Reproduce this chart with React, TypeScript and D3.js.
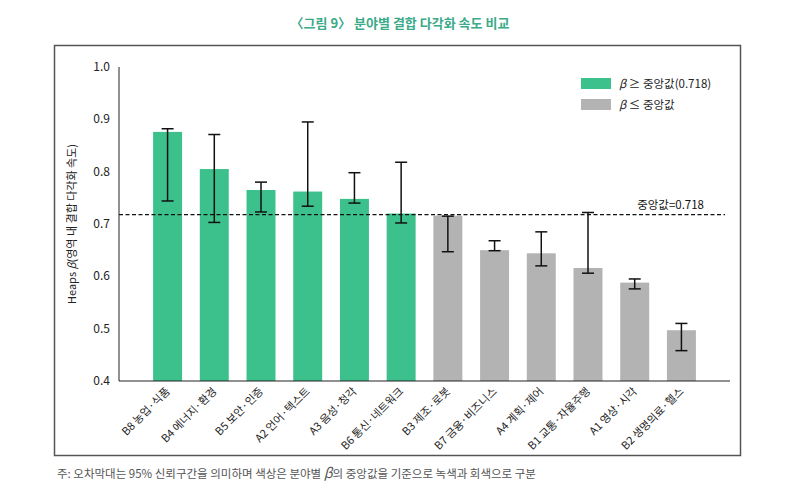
import React from 'react';
import * as d3 from 'd3';

// values
const categories = [
  'B8 농업·식품', 'B4 에너지·환경', 'B5 보안·인증', 'A2 언어·텍스트', 'A3 음성·청각', 'B6 통신·네트워크',
  'B3 제조·로봇', 'B7 금융·비즈니스', 'A4 계획·제어', 'B1 교통·자율주행', 'A1 영상·시각', 'B2 생명의료·헬스',
];
const betaValues = [0.876, 0.805, 0.765, 0.762, 0.748, 0.720, 0.716, 0.650, 0.644, 0.616, 0.588, 0.497];
const ciLow = [0.744, 0.703, 0.723, 0.734, 0.740, 0.702, 0.647, 0.649, 0.620, 0.606, 0.576, 0.458];
const ciHigh = [0.882, 0.871, 0.780, 0.895, 0.798, 0.818, 0.715, 0.668, 0.685, 0.722, 0.595, 0.510];
const yTicks = [0.4, 0.5, 0.6, 0.7, 0.8, 0.9, 1.0];
const medianValue = 0.718;

const GREEN = '#3cc08c';
const GRAY = '#b3b3b3';
const FONT = "'Noto Sans CJK KR', 'Noto Sans', sans-serif";

const App = () => {
  const x = d3.scaleBand<string>()
    .domain(categories)
    .range([119, 730])
    .paddingInner(0.38)
    .paddingOuter(0.73);

  const y = d3.scaleLinear()
    .domain([0.4, 1.0])
    .range([381, 67]);

  const cap = 6;

  return (
    <div style={{ position: 'absolute', left: 0, top: 0 }}>
      <svg width={800} height={493} style={{ display: 'block', fontFamily: FONT }}>
        <rect width={800} height={493} fill="#fff" />

        {/* title */}
        <text x={400} y={28} textAnchor="middle" fontSize={13} fontWeight="bold" fill="#3aaa88">
          〈그림 9〉 분야별 결합 다각화 속도 비교
        </text>

        {/* outer frame */}
        <rect x={54.5} y={45.5} width={686} height={410} fill="none" stroke="#555" strokeWidth={1.5} />

        {/* bars */}
        {categories.map((c, i) => (
          <rect
            key={c}
            x={x(c)}
            y={y(betaValues[i])}
            width={x.bandwidth()}
            height={y(0.4) - y(betaValues[i])}
            fill={betaValues[i] >= medianValue ? GREEN : GRAY}
          />
        ))}

        {/* median line */}
        <line x1={119} x2={725} y1={y(medianValue)} y2={y(medianValue)}
          stroke="#111" strokeWidth={1.2} strokeDasharray="4,2.5" />
        <text x={704} y={y(medianValue) - 6} textAnchor="end" fontSize={11.5} fill="#111">중앙값=0.718</text>

        {/* error bars */}
        {categories.map((c, i) => {
          const cx = (x(c) ?? 0) + x.bandwidth() / 2;
          return (
            <g key={c} stroke="#111" strokeWidth={1.5}>
              <line x1={cx} x2={cx} y1={y(ciHigh[i])} y2={y(ciLow[i])} />
              <line x1={cx - cap} x2={cx + cap} y1={y(ciHigh[i])} y2={y(ciHigh[i])} />
              <line x1={cx - cap} x2={cx + cap} y1={y(ciLow[i])} y2={y(ciLow[i])} />
            </g>
          );
        })}

        {/* axes */}
        <line x1={119} x2={119} y1={67} y2={381} stroke="#222" strokeWidth={1} />
        <line x1={119} x2={730} y1={381} y2={381} stroke="#222" strokeWidth={1} />
        {yTicks.map(t => (
          <text key={t} x={110} y={y(t) + 4} textAnchor="end" fontSize={12} fill="#222">
            {t.toFixed(1)}
          </text>
        ))}

        {/* x labels */}
        {categories.map(c => {
          const cx = (x(c) ?? 0) + x.bandwidth() / 2 + 3;
          return (
            <text key={c} transform={`translate(${cx},${392}) rotate(-45)`}
              textAnchor="end" fontSize={11} fill="#222">{c}</text>
          );
        })}

        {/* y label */}
        <text transform={`translate(76,${y(0.7)}) rotate(-90)`} textAnchor="middle" fontSize={11} fill="#222">
          Heaps <tspan fontStyle="italic">β</tspan>(영역 내 결합 다각화 속도)
        </text>

        {/* legend */}
        <rect x={581} y={78} width={30} height={11} fill={GREEN} />
        <text x={619} y={88} fontSize={11.5} fill="#222">
          <tspan fontStyle="italic">β</tspan> ≥ 중앙값(0.718)
        </text>
        <rect x={581} y={99} width={30} height={11} fill={GRAY} />
        <text x={619} y={109} fontSize={11.5} fill="#222">
          <tspan fontStyle="italic">β</tspan> ≤ 중앙값
        </text>

        {/* footnote */}
        <text x={57} y={478} fontSize={11.5} fill="#555">
          주: 오차막대는 95% 신뢰구간을 의미하며 색상은 분야별 <tspan fontStyle="italic" fontSize={14}>β</tspan>의 중앙값을 기준으로 녹색과 회색으로 구분
        </text>
      </svg>
    </div>
  );
};

export default App;
